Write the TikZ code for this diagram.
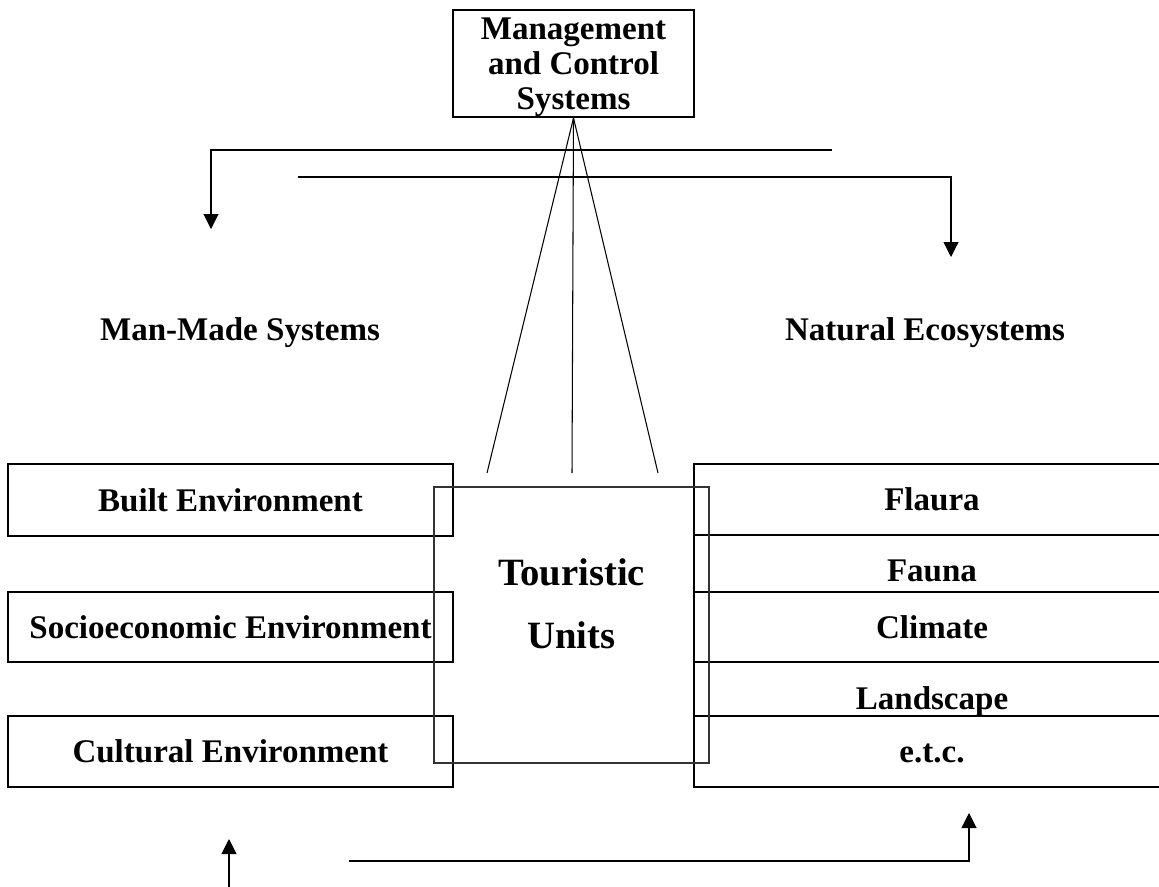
\documentclass[tikz,border=0pt]{standalone}
\usepackage{fontspec}
\setmainfont{Liberation Serif}
\usepackage{tikz}
\usetikzlibrary{arrows.meta}

\tikzset{
  sysbox/.style={draw, line width=1.1pt, align=center, inner sep=0pt, font=\bfseries\fontsize{18.8}{19.8}\selectfont},
  syslabel/.style={inner sep=0pt, anchor=base, font=\bfseries\fontsize{18.8}{20}\selectfont},
  link/.style={line width=0.6pt},
  arr/.style={line width=0.6pt, -{Triangle[length=0.3cm,width=0.3cm]}}
}

\begin{document}
\begin{tikzpicture}[x=0.02cm,y=-0.02cm]
                      \useasboundingbox (0,0) rectangle (1159,886);
                      \node (mgmt) [sysbox, minimum width=4.82cm, minimum height=2.14cm] at (573.5,63.5) {};
                      \node (mgmttext) [align=center, inner sep=0pt, font=\bfseries\fontsize{18.8}{19.8}\selectfont] at (573.5,67.5) {Management\\and Control\\Systems};
                      \node (manmade) [syslabel] at (240,340) {Man-Made Systems};
                      \node (natural) [syslabel] at (925,340) {Natural Ecosystems};
                      \node (built) [sysbox, minimum width=8.9cm, minimum height=1.44cm] at (230.5,500) {Built Environment};
                      \node (socio) [sysbox, minimum width=8.9cm, minimum height=1.4cm] at (230.5,627) {Socioeconomic Environment};
                      \node (cultural) [sysbox, minimum width=8.9cm, minimum height=1.42cm] at (230.5,751.5) {Cultural Environment};
                      \draw[line width=1.1pt] (1170,464) -- (694,464) -- (694,787) -- (1170,787);
                      \foreach \y in {535,592,662,716} \draw[line width=1.1pt] (694,\y) -- (1170,\y);
                      \node (flaura) [syslabel] at (932,510) {Flaura};
                      \node (fauna) [syslabel] at (932,581) {Fauna};
                      \node (climate) [syslabel] at (932,638) {Climate};
                      \node (landscape) [syslabel] at (932,709) {Landscape};
                      \node (etc) [syslabel] at (932,762) {e.t.c.};
                      \node (tour) [draw=black!80, line width=0.8pt, minimum width=5.5cm, minimum height=5.52cm] at (571.5,625) {};
                      \node (tourtext) [align=center, inner sep=0pt, font=\bfseries\fontsize{22}{35.7}\selectfont] at (571.5,603.5) {Touristic\\Units};
                      \coordinate (t1) at (487,473);
                      \coordinate (t2) at (572,473);
                      \coordinate (t3) at (658,473);
                      \draw[link] (mgmt.south) -- (t1);
                      \draw[link] (mgmt.south) -- (t2);
                      \draw[link] (mgmt.south) -- (t3);
                      \coordinate (a1) at (832,150);
                      \coordinate (a1e) at (211,229);
                      \draw[arr] (a1) -| (a1e);
                      \coordinate (a2) at (298,177);
                      \coordinate (a2e) at (951,257);
                      \draw[arr] (a2) -| (a2e);
                      \coordinate (b1) at (229,890);
                      \coordinate (b1e) at (229,839);
                      \draw[arr] (b1) -- (b1e);
                      \coordinate (b2) at (349,861);
                      \coordinate (b2e) at (969,813);
                      \draw[arr] (b2) -| (b2e);
                  \end{tikzpicture}
\end{document}
